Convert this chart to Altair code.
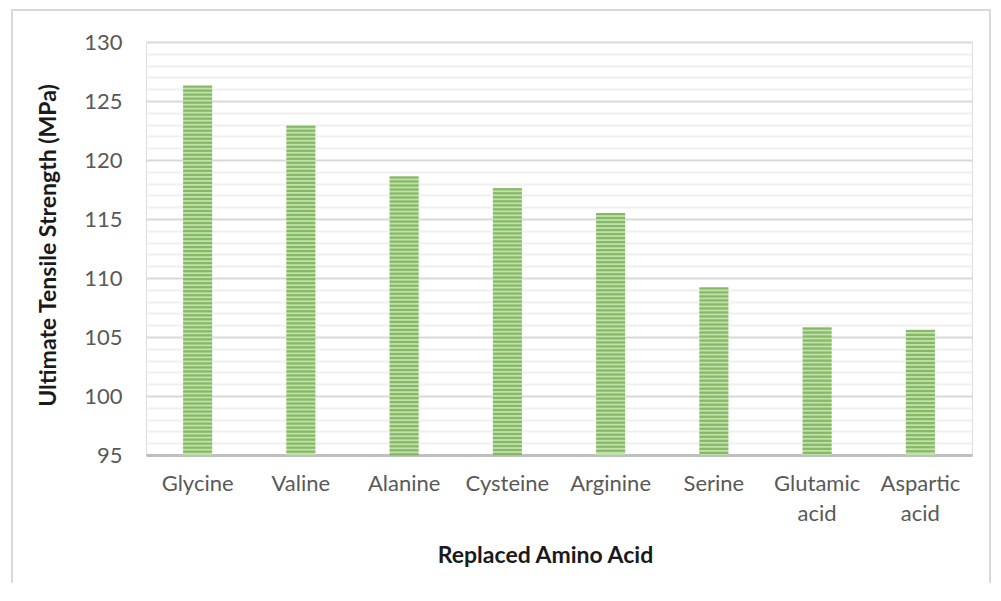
import altair as alt
import pandas as pd

acids = ["Glycine", "Valine", "Alanine", "Cysteine", "Arginine", "Serine",
         "Glutamic acid", "Aspartic acid"]
strength = [126.3, 122.9, 118.6, 117.6, 115.5, 109.2, 105.8, 105.6]
y_ticks = list(range(95, 131))

df = pd.DataFrame({"acid": acids, "value": strength})

FONT = "Lato"
W, H = 826, 413

x_enc = alt.X("acid:N", sort=acids, title="Replaced Amino Acid",
              scale=alt.Scale(paddingInner=0, paddingOuter=0),
              axis=alt.Axis(labelAngle=0, labelFont=FONT, labelFontSize=22,
                            labelColor="#595959", labelPadding=18,
                            labelExpr="split(datum.label, ' ')",
                            labelLineHeight=30, labelBaseline="top",
                            ticks=False, domainColor="#bfbfbf", domainWidth=3,
                            titleFont=FONT, titleFontSize=23, titleFontWeight="bold",
                            titleColor="#1a1a1a", titleX=399, titleY=100,
                            titleBaseline="middle", grid=False))

y_scale = alt.Scale(domain=[95, 130], nice=False, zero=False)

y_enc = alt.Y("value:Q", scale=y_scale, title="Ultimate Tensile Strength (MPa)",
              axis=alt.Axis(values=y_ticks, ticks=False, domain=False,
                            labelOverlap=False,
                            labelExpr="datum.value % 5 === 0 ? datum.label : ''",
                            labelFont=FONT, labelFontSize=22, labelColor="#595959",
                            labelPadding=24,
                            gridColor=alt.condition("datum.value % 5 === 0",
                                                    alt.value("#d9d9d9"),
                                                    alt.value("#f0f0f0")),
                            gridWidth=2,
                            titleFont=FONT, titleFontSize=23, titleFontWeight="bold",
                            titleColor="#1a1a1a", titleX=-98, titleY=203,
                            titleAngle=-90, titleBaseline="middle"))

frame = alt.Chart(pd.DataFrame({"k": [0]})).mark_rect(
    fill=None, stroke="#d9d9d9", strokeWidth=2).encode(
    x=alt.value(-134), x2=alt.value(844), y=alt.value(-32), y2=alt.value(600))

bars = alt.Chart(df).mark_bar(size=29, color="#c2dfae").encode(
    x=x_enc,
    y=y_enc,
    y2=alt.datum(95),
)

stripes = alt.Chart(df).transform_calculate(
    value="sequence(datum.value - 0.08, 95.05, -0.34)"
).transform_flatten(["value"]).mark_tick(
    size=29, thickness=2.2, color="#6aaa42", orient="horizontal").encode(
    x=x_enc,
    y=y_enc,
)

chart = alt.layer(frame, bars, stripes).properties(
    width=W, height=H,
    autosize=alt.AutoSizeParams(type="none"),
    padding={"left": 138, "top": 34, "right": 20, "bottom": 128},
).configure_view(strokeWidth=0).configure(background="white")

chart.save("out.html", embed_options={"renderer": "svg", "actions": False})
